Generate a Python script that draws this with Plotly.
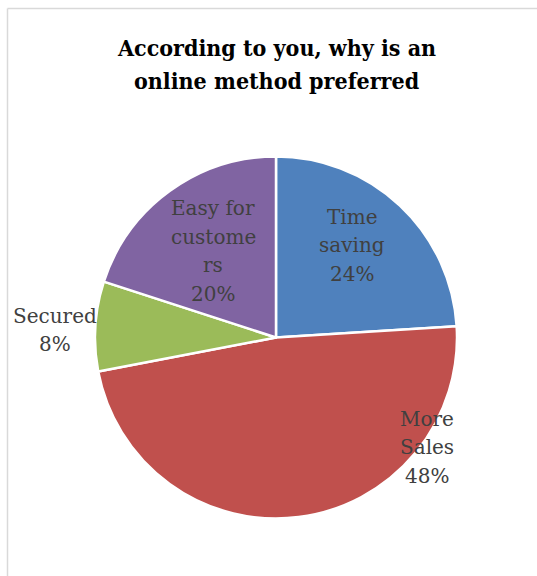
import math
import plotly.graph_objects as go

# Survey answers: why an online method is preferred
categories = ["Time saving", "More Sales", "Secured", "Easy for customers"]
label_lines = [["Time", "saving"], ["More", "Sales"], ["Secured"], ["Easy for", "custome", "rs"]]
percent = [24, 48, 8, 20]
title_lines = ["According to you, why is an", "online method preferred"]

colors = ["#4F81BD", "#C0504D", "#9BBB59", "#8064A2"]

W, H = 537, 576
CX, CY, R = 276, 337.5, 181  # pie centre / radius in pixels
LABEL_FONT = dict(family="DejaVu Serif", size=20, color="#404040")
LABEL_LEAD = 28.5   # px between label lines
TITLE_FONT = dict(family="DejaVu Serif Condensed, DejaVu Serif", size=23, color="#000000")
TITLE_LEAD = 32.5

# label placement relative to each slice's mid-angle: (angle shift in deg, radius fraction)
label_place = [(-3.6, 0.66), (-46.8, 1.03), (-1.6, 1.22), (0.0, 0.59)]

fig = go.Figure(
    go.Pie(
        labels=categories,
        values=percent,
        sort=False,
        direction="clockwise",
        rotation=0,
        textinfo="none",
        hoverinfo="label+percent",
        marker=dict(colors=colors, line=dict(color="white", width=2.5)),
        domain=dict(x=[(CX - R) / W, (CX + R) / W], y=[(H - CY - R) / H, (H - CY + R) / H]),
        showlegend=False,
    )
)


def text_block(lines, cx, cy, lead, font, bold=False):
    """One annotation per line so the line spacing can be set freely."""
    out = []
    n = len(lines)
    for i, line in enumerate(lines):
        py = cy + (i - (n - 1) / 2) * lead
        out.append(dict(
            x=cx / W, y=1 - py / H, xref="paper", yref="paper",
            text=f"<b>{line}</b>" if bold else line, showarrow=False,
            xanchor="center", yanchor="middle", font=font,
        ))
    return out


annotations = []
total = sum(percent)
cum = 0
for lines, v, (shift, rf) in zip(label_lines, percent, label_place):
    mid = (cum + v / 2) / total * 360 + shift
    cum += v
    px = CX + math.sin(math.radians(mid)) * R * rf
    py = CY - math.cos(math.radians(mid)) * R * rf
    annotations += text_block(lines + [f"{round(v / total * 100)}%"], px, py, LABEL_LEAD, LABEL_FONT)

annotations += text_block(title_lines, CX, 64, TITLE_LEAD, TITLE_FONT, bold=True)

# chart-area frame (left and top edges visible)
shapes = [
    dict(type="line", xref="paper", yref="paper", x0=7.5 / W, x1=1.05, y0=1 - 8.5 / H, y1=1 - 8.5 / H,
         line=dict(color="#D9D9D9", width=1.5)),
    dict(type="line", xref="paper", yref="paper", x0=7.5 / W, x1=7.5 / W, y0=-0.05, y1=1 - 8.5 / H,
         line=dict(color="#D9D9D9", width=1.5)),
]

fig.update_layout(
    width=W, height=H,
    margin=dict(l=0, r=0, t=0, b=0),
    paper_bgcolor="white", plot_bgcolor="white",
    annotations=annotations, shapes=shapes,
)

fig.write_html("out.html")
